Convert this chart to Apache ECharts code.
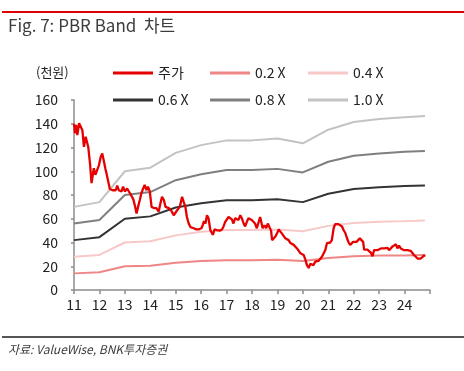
<!DOCTYPE html>
<html>
<head>
<meta charset="utf-8">
<script src="https://cdn.jsdelivr.net/npm/echarts@6/dist/echarts.min.js"></script>
<style>
html,body{margin:0;padding:0;background:#fff;}
#chart{width:464px;height:371px;}
</style>
</head>
<body>
<div id="chart"></div>
<script>
// ---- data ----
var xTickLabels = ['11','12','13','14','15','16','17','18','19','20','21','22','23','24'];

var bandYears = [11, 12, 13, 14, 15, 16, 17, 18, 19, 20, 21, 22, 23, 24, 24.8];
var band10 = [70, 74, 100, 103, 115.5, 122, 126, 126, 127.5, 123.5, 135, 141.5, 144, 145.5, 146.5];
var band08 = [56, 59, 80, 82.5, 92.5, 97.5, 101, 101, 102, 99, 108, 113, 115, 116.5, 117];
var band06 = [42, 44.5, 60, 62, 69.5, 73, 75.5, 75.5, 76.5, 74, 81, 85, 86.5, 87.5, 88];
var band04 = [28, 29.5, 40, 41, 46, 49, 50.5, 50.5, 51, 49.5, 54, 56.5, 57.5, 58, 58.5];
var band02 = [14, 15, 20, 20.5, 23, 24.5, 25, 25, 25.5, 24.5, 27, 28.5, 29, 29, 29.5];

var priceYears = [
 11.00,11.04,11.08,11.13,11.20,11.26,11.33,11.39,11.46,11.52,11.56,11.63,11.69,11.78,11.84,11.91,11.98,
 12.05,12.11,12.18,12.23,12.28,12.35,12.41,12.52,12.64,12.70,12.76,12.87,12.93,
 13.00,13.09,13.16,13.24,13.33,13.39,13.46,13.52,13.59,13.65,13.72,13.78,13.85,13.91,13.98,
 14.05,14.14,14.24,14.33,14.40,14.46,14.53,14.60,14.66,14.73,14.79,14.85,14.92,14.99,
 15.05,15.16,15.25,15.31,15.38,15.44,15.51,15.58,15.71,15.81,15.90,
 16.01,16.07,16.11,16.17,16.23,16.29,16.36,16.42,16.46,16.53,16.62,16.73,16.82,16.88,16.95,
 17.01,17.08,17.15,17.21,17.27,17.34,17.40,17.47,17.54,17.60,17.67,17.73,17.80,17.86,17.93,17.99,
 18.06,18.12,18.19,18.25,18.32,18.38,18.42,18.49,18.56,18.62,18.69,18.75,18.79,18.85,18.92,18.98,
 19.05,19.11,19.18,19.25,19.31,19.38,19.44,19.51,19.58,19.64,19.71,19.77,19.84,19.90,19.97,
 20.03,20.10,20.16,20.23,20.29,20.36,20.42,20.49,20.56,20.62,20.69,20.75,20.82,20.88,20.95,
 21.01,21.08,21.14,21.21,21.27,21.34,21.40,21.47,21.54,21.60,21.67,21.73,21.80,21.86,21.91,21.98,
 22.05,22.11,22.18,22.24,22.31,22.37,22.41,22.48,22.54,22.61,22.67,22.74,22.80,22.87,22.93,
 23.00,23.07,23.13,23.20,23.26,23.33,23.39,23.46,23.52,23.59,23.66,23.72,23.78,23.85,23.91,23.98,
 24.05,24.11,24.18,24.24,24.31,24.37,24.44,24.51,24.57,24.64,24.70,24.76,24.82
];
var priceValues = [
 140,132,139,130.5,140.5,139,134.5,120.5,129,130.5,120.5,106.5,90,102.5,97,97,105,
 112,115,108,102.5,98,91,85,84,84,88,84,83,87,
 83,85.5,84,80,76.5,71.5,64.5,70,76,81.5,85.5,88.5,84,87,83,
 70,69,69,66,73,78.5,76,70,71.5,69,70,66,63,65,
 67,70,78.5,74.5,70,61.5,56,53,52,51,51,
 52,55,58,56,63,60.5,50.5,50.5,46.5,51,50.5,50,51,53.5,57.5,
 59,61.5,63,59.5,56,60.5,61.5,59,63,60.5,56,53.5,57.5,60.5,59.5,59,
 57.5,56,52,53.5,61.5,63,52,54.5,52,56,56,50,42,43.5,45,47.5,
 51,50.5,47.5,46.5,43.5,42.5,42,39.5,40.5,38,38,35,33.5,31,31.5,
 29.5,25.5,21,18.5,22,22.5,21,24,25.5,24.5,26,28,31,33.5,39.5,
 40.5,40,42,52,55.5,56,55.5,54.5,53.5,50.5,48,44,40,38,38,40.5,
 39.5,40.5,42,43.5,43.5,40.5,34,35,34,33,31.5,28.5,33.5,35,33.5,
 35,35,36.5,35,36.5,35.5,33.5,35,36.5,37.5,38.5,35,37.5,35,36.5,33.5,
 35,33.5,32.5,33,31.5,29.5,28,26.5,27,26.5,28,29,29
];

var yMin = 0, yMax = 160, yInterval = 20;
var xMin = 11, xMax = 25, xInterval = 1;

// ---- build ----
function zip(xs, ys){ var r=[]; for (var i=0;i<xs.length;i++) r.push([xs[i], ys[i]]); return r; }

var FONT = '"Noto Sans CJK KR","Noto Sans",sans-serif';
var colors = {
  price: '#e60000', b02: '#ef8585', b04: '#f8c8c8', b06: '#333333', b08: '#7f7f7f', b10: '#c3c3c3'
};

function mkSeries(name, data, color, width, z){
  return {
    name: name, type: 'line', data: data, showSymbol: false, symbol: 'none',
    lineStyle: {color: color, width: width}, itemStyle: {color: color},
    z: z, animation: false, silent: true
  };
}

function mkLegend(name, left, top){
  return {
    data: [name], left: left, top: top, orient: 'horizontal',
    icon: 'rect', itemWidth: 40, itemHeight: 3, itemGap: 0,
    textStyle: {fontSize: 14, color: '#222', fontFamily: FONT, padding: [0,0,0,0]},
    padding: 0, selectedMode: false
  };
}

var chart = echarts.init(document.getElementById('chart'), null, {renderer: 'canvas'});
chart.setOption({
  backgroundColor: '#fff',
  animation: false,
  grid: {left: 74, right: 34, top: 100, bottom: 81, containLabel: false},
  legend: [
    mkLegend('주가', 113, 66),
    mkLegend('0.2 X', 210, 66),
    mkLegend('0.4 X', 308, 66),
    mkLegend('0.6 X', 113, 93),
    mkLegend('0.8 X', 210, 93),
    mkLegend('1.0 X', 308, 93)
  ],
  xAxis: {
    type: 'value', min: xMin, max: xMax, interval: xInterval,
    axisLine: {show: true, lineStyle: {color: '#8c8c8c', width: 1.5}},
    axisTick: {show: true, length: 4, lineStyle: {color: '#8c8c8c', width: 1.5}},
    splitLine: {show: false},
    axisLabel: {
      fontSize: 14, color: '#222', fontFamily: FONT, margin: 8,
      formatter: function(v){ var i = Math.round(v - xMin); return (i >= 0 && i < xTickLabels.length) ? xTickLabels[i] : ''; }
    }
  },
  yAxis: {
    type: 'value', min: yMin, max: yMax, interval: yInterval,
    axisLine: {show: true, lineStyle: {color: '#8c8c8c', width: 1.5}},
    axisTick: {show: true, length: 3, lineStyle: {color: '#8c8c8c', width: 1.5}},
    splitLine: {show: false},
    axisLabel: {fontSize: 14, color: '#222', fontFamily: FONT, margin: 16}
  },
  series: [
    mkSeries('1.0 X', zip(bandYears, band10), colors.b10, 2, 2),
    mkSeries('0.8 X', zip(bandYears, band08), colors.b08, 2, 2),
    mkSeries('0.6 X', zip(bandYears, band06), colors.b06, 2, 2),
    mkSeries('0.4 X', zip(bandYears, band04), colors.b04, 2, 2),
    mkSeries('0.2 X', zip(bandYears, band02), colors.b02, 2, 2),
    mkSeries('주가', zip(priceYears, priceValues), colors.price, 2.3, 5)
  ],
  graphic: [
    {type: 'rect', shape: {x: 2, y: 11, width: 462, height: 2}, style: {fill: '#e00000'}, silent: true},
    {type: 'text', left: 8, top: 17, style: {text: 'Fig. 7: PBR Band  차트', fontSize: 17, fill: '#3d3d3d', fontFamily: FONT}, silent: true},
    {type: 'text', left: 36, top: 66, style: {text: '(천원)', fontSize: 13, fill: '#222', fontFamily: FONT}, silent: true},
    {type: 'rect', shape: {x: 2, y: 336, width: 462, height: 2}, style: {fill: '#555555'}, silent: true},
    {type: 'text', left: 8, top: 343, style: {text: '자료: ValueWise, BNK투자증권', fontSize: 12, fill: '#3d3d3d', fontStyle: 'italic', fontFamily: FONT}, silent: true}
  ]
});
</script>
</body>
</html>
